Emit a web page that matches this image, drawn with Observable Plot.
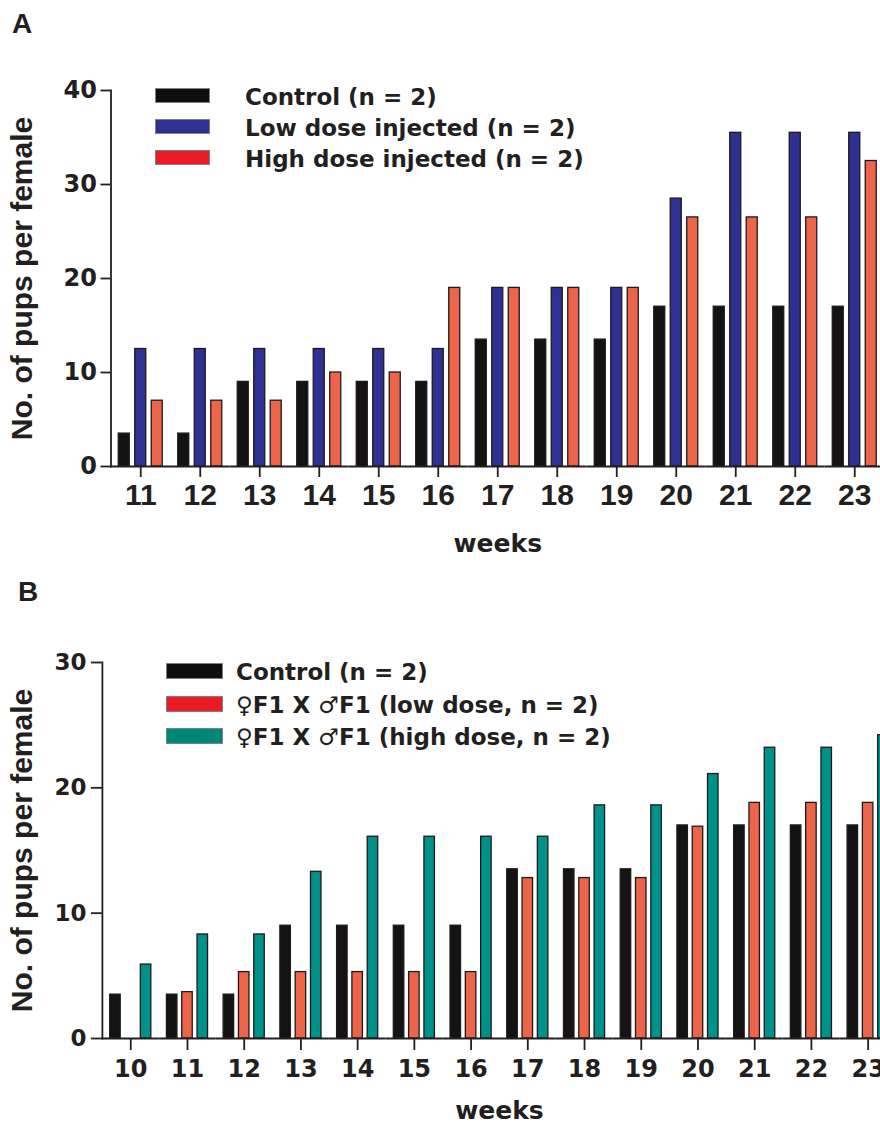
<!DOCTYPE html>
<html><head><meta charset="utf-8">
<script src="https://cdn.jsdelivr.net/npm/d3@7"></script>
<script src="https://cdn.jsdelivr.net/npm/@observablehq/plot@0.6"></script>
<style>
html,body{margin:0;padding:0;background:#fff;overflow:hidden;}
#wrap{position:relative;width:880px;height:1124px;overflow:hidden;background:#fff;color:#231f20;}
.panel{position:absolute;left:0;}
.panel svg{display:block;max-width:none !important;}
.letter{position:absolute;z-index:2;font:bold 28px "Liberation Sans",Arial,sans-serif;line-height:1;}
#legA,#legB{position:absolute;left:0;top:0;z-index:2;}
.sw{position:absolute;box-sizing:border-box;border:1px solid #7d8089;}
.lt{position:absolute;white-space:nowrap;font:bold 23px "DejaVu Sans",sans-serif;line-height:28px;height:28px;}
.lt .sym{font-weight:normal;}
g[aria-label="y-axis label"], g[aria-label="y-axis label"] text{font:bold 30px "Liberation Sans",Arial,sans-serif;}
g[aria-label="fx-axis label"], g[aria-label="fx-axis label"] text{font:bold 25px "DejaVu Sans",sans-serif;}
#pA g[aria-label="y-axis tick label"], #pA g[aria-label="y-axis tick label"] text{font:bold 24px "DejaVu Sans",sans-serif;}
#pA g[aria-label="fx-axis tick label"], #pA g[aria-label="fx-axis tick label"] text{font:bold 30px "Liberation Sans",Arial,sans-serif;}
#pB g[aria-label="y-axis tick label"], #pB g[aria-label="y-axis tick label"] text{font:bold 23px "DejaVu Sans",sans-serif;}
#pB g[aria-label="fx-axis tick label"], #pB g[aria-label="fx-axis tick label"] text{font:bold 24px "DejaVu Sans",sans-serif;}
</style>
</head><body>
<div id="wrap">
  <div id="pA" class="panel" style="top:0px;"></div>
  <div id="pB" class="panel" style="top:562px;"></div>
  <div class="letter" style="left:12px;top:10px;">A</div>
  <div class="letter" style="left:18px;top:578px;">B</div>
  <div id="legA"></div>
  <div id="legB"></div>
</div>
<script>
// ---------- Panel A data ----------
const weeksA = [11, 12, 13, 14, 15, 16, 17, 18, 19, 20, 21, 22, 23];
const seriesA = ["Control (n = 2)", "Low dose injected (n = 2)", "High dose injected (n = 2)"];
const controlA = [3.5, 3.5, 9, 9, 9, 9, 13.5, 13.5, 13.5, 17, 17, 17, 17];
const lowDoseA = [12.5, 12.5, 12.5, 12.5, 12.5, 12.5, 19, 19, 19, 28.5, 35.5, 35.5, 35.5];
const highDoseA = [7, 7, 7, 10, 10, 19, 19, 19, 19, 26.5, 26.5, 26.5, 32.5];
const yTicksA = [0, 10, 20, 30, 40];

// ---------- Panel B data ----------
const weeksB = [10, 11, 12, 13, 14, 15, 16, 17, 18, 19, 20, 21, 22, 23];
const seriesB = ["Control (n = 2)", "♀F1 X ♂F1 (low dose, n = 2)", "♀F1 X ♂F1 (high dose, n = 2)"];
const controlB = [3.5, 3.5, 3.5, 9, 9, 9, 9, 13.5, 13.5, 13.5, 17, 17, 17, 17];
const lowDoseB = [null, 3.7, 5.3, 5.3, 5.3, 5.3, 5.3, 12.8, 12.8, 12.8, 16.9, 18.8, 18.8, 18.8];
const highDoseB = [5.9, 8.3, 8.3, 13.3, 16.1, 16.1, 16.1, 16.1, 18.6, 18.6, 21.1, 23.2, 23.2, 24.2];
const yTicksB = [0, 10, 20, 30];

const yTitle = "No. of pups per female";
const xTitle = "weeks";

// ---------- styles ----------
const barColorsA = ["#151213", "#2e3192", "#ec654b"];
const swatchColorsA = ["#0e0e0e", "#2e3192", "#ed1c24"];
const barColorsB = ["#151213", "#ec654b", "#00918b"];
const swatchColorsB = ["#0e0e0e", "#ed1c24", "#00877a"];
const ink = "#231f20";

function toRows(weeks, series, cols) {
  const rows = [];
  weeks.forEach((w, i) => series.forEach((s, j) => {
    const v = cols[j][i];
    if (v != null) rows.push({week: w, series: s, value: v});
  }));
  return rows;
}

function panel(o) {
  const rows = toRows(o.weeks, o.series, o.cols);
  return Plot.plot({
    width: o.width, height: o.height,
    marginLeft: o.ml, marginRight: 0, marginTop: o.mt, marginBottom: o.mb,
    style: {background: "#fff", color: ink, fontFamily: "DejaVu Sans", fontWeight: "bold", maxWidth: "none"},
    fx: {domain: o.weeks, paddingInner: 0, paddingOuter: 0, round: false},
    x: {domain: o.series, paddingInner: o.pIn, paddingOuter: o.pOut, axis: null, round: false},
    y: {domain: [0, o.yMax]},
    color: {domain: o.series, range: o.colors},
    marks: [
      Plot.barY(rows, {fx: "week", x: "series", y: "value", fill: "series", stroke: "#1d1a1b", strokeWidth: 1.3}),
      Plot.ruleY([0], {stroke: ink, strokeWidth: 1.8}),
      Plot.frame({anchor: "left", facetAnchor: "left", stroke: ink, strokeWidth: 1.8}),
      Plot.axisY({ticks: o.yTicks, tickFormat: d => String(d), tickSize: o.yTS, tickPadding: o.yTP, strokeWidth: 1.8,
        label: yTitle, labelAnchor: "center", labelOffset: o.yLO, labelArrow: "none"}),
      Plot.axisFx({anchor: "bottom", tickSize: o.xTS, tickPadding: o.xTP, strokeWidth: 1.8,
        label: xTitle, labelAnchor: "center", labelOffset: o.xLO, labelArrow: "none"})
    ]
  });
}

document.getElementById("pA").appendChild(panel({
  weeks: weeksA, series: seriesA, cols: [controlA, lowDoseA, highDoseA], colors: barColorsA,
  width: 884, height: 562, ml: 110.5, mt: 90, mb: 96, pIn: 0.333, pOut: 0.47,
  yMax: 40, yTicks: yTicksA, yTS: 10, yTP: 4, yLO: 100, xTS: 11, xTP: 6, xLO: 85
}));
document.getElementById("pB").appendChild(panel({
  weeks: weeksB, series: seriesB, cols: [controlB, lowDoseB, highDoseB], colors: barColorsB,
  width: 896, height: 562, ml: 101.9, mt: 100, mb: 86, pIn: 0.314, pOut: 0.51,
  yMax: 30, yTicks: yTicksB, yTS: 11, yTP: 5, yLO: 92, xTS: 12, xTP: 9, xLO: 80
}));

function legend(el, series, colors, o) {
  series.forEach((s, i) => {
    const top = o.top + i * o.step;
    const sw = document.createElement("div");
    sw.className = "sw";
    Object.assign(sw.style, {left: o.sx + "px", top: top + "px", width: o.sw + "px", height: o.sh + "px", background: colors[i]});
    el.appendChild(sw);
    const t = document.createElement("div");
    t.className = "lt";
    t.style.left = o.tx + "px";
    t.style.top = (top + o.sh / 2 - 14 + 1) + "px";
    t.innerHTML = s.replace(/([♀♂])/g, '<span class="sym">$1</span>');
    el.appendChild(t);
  });
}
legend(document.getElementById("legA"), seriesA, swatchColorsA, {sx: 155, sw: 55, sh: 15, top: 88, step: 31, tx: 245});
legend(document.getElementById("legB"), seriesB, swatchColorsB, {sx: 166, sw: 57, sh: 16, top: 663, step: 32.5, tx: 236});
</script>
</body></html>
